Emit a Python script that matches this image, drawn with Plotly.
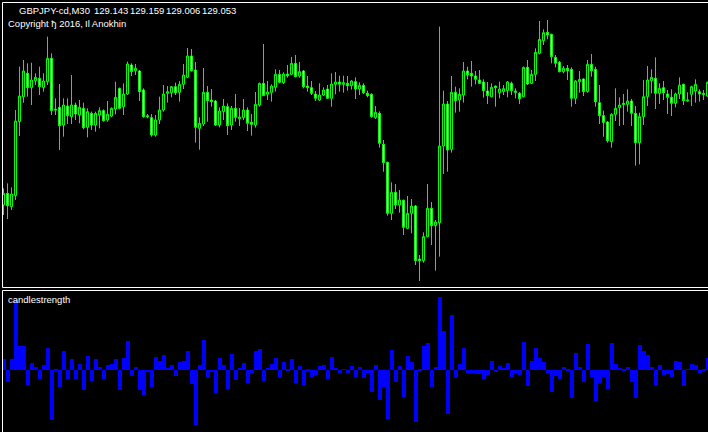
import plotly.graph_objects as go

# ---- data (GBPJPY M30, bar index) ----
open_ = [128.490,128.560,128.480,128.546,128.990,129.140,129.280,129.194,129.236,129.250,
         129.194,129.230,129.370,129.066,129.076,128.970,129.084,129.020,129.090,129.030,
         129.070,128.956,129.040,128.970,129.030,129.056,129.000,129.024,129.066,129.190,
         129.080,129.156,129.330,129.296,129.294,129.180,129.026,129.014,128.910,129.000,
         129.060,129.160,129.164,129.200,129.166,129.214,129.256,129.384,129.300,128.950,
         128.976,129.166,129.120,129.114,128.970,129.050,129.080,128.970,129.070,129.008,
         129.014,129.060,128.986,128.970,129.090,129.220,129.154,129.166,129.196,129.274,
         129.224,129.276,129.274,129.340,129.264,129.294,129.204,129.194,129.156,129.120,
         129.150,129.186,129.130,129.214,129.228,129.214,129.220,129.206,129.230,129.186,
         129.208,129.160,129.154,129.014,129.040,128.854,128.746,128.440,128.566,128.490,
         128.518,128.350,128.440,128.484,128.166,128.156,128.300,128.470,128.366,128.384,
         128.844,129.096,128.824,129.166,129.120,129.150,129.294,129.280,129.264,129.240,
         129.228,129.174,129.140,129.204,129.164,129.170,129.176,129.220,129.174,129.160,
         129.140,129.316,129.220,129.274,129.400,129.476,129.526,129.514,129.376,129.346,
         129.290,129.310,129.304,129.130,129.230,129.246,129.170,129.334,129.304,129.104,
         129.026,128.988,128.870,129.034,129.074,129.100,129.094,129.114,129.040,128.864,
         129.020,129.140,129.236,129.250,129.160,129.194,129.156,129.136,129.100,129.156,
         129.214,129.114,129.154,129.174,129.170,129.160,129.144]
high = [128.590,128.620,128.596,129.060,129.320,129.360,129.340,129.344,129.280,129.320,
        129.280,129.500,129.400,129.130,129.216,129.130,129.130,129.270,129.104,129.120,
        129.104,129.070,129.050,129.050,129.076,129.064,129.114,129.076,129.230,129.194,
        129.220,129.350,129.340,129.336,129.300,129.190,129.036,129.036,129.030,129.140,
        129.210,129.204,129.204,129.224,129.234,129.336,129.432,129.426,129.348,129.016,
        129.312,129.204,129.186,129.120,129.076,129.126,129.100,129.084,129.156,129.072,
        129.126,129.076,129.036,129.168,129.224,129.456,129.234,129.214,129.304,129.300,
        129.286,129.330,129.378,129.390,129.348,129.300,129.264,129.234,129.174,129.220,
        129.196,129.210,129.280,129.288,129.266,129.266,129.264,129.240,129.256,129.226,
        129.220,129.176,129.160,129.084,129.052,128.880,128.750,128.626,128.616,128.580,
        128.522,128.544,128.526,128.490,128.190,128.326,128.616,128.508,128.400,129.560,
        129.176,129.114,129.264,129.200,129.190,129.348,129.320,129.354,129.294,129.300,
        129.244,129.228,129.220,129.206,129.230,129.210,129.234,129.230,129.190,129.168,
        129.320,129.360,129.300,129.430,129.594,129.544,129.600,129.518,129.390,129.354,
        129.324,129.330,129.316,129.240,129.294,129.250,129.360,129.396,129.320,129.210,
        129.056,128.994,129.040,129.190,129.136,129.156,129.184,129.126,129.084,129.044,
        129.240,129.324,129.304,129.376,129.220,129.234,129.180,129.184,129.164,129.256,
        129.218,129.166,129.206,129.244,129.184,129.180,129.230]
low = [128.430,128.406,128.460,128.520,128.904,129.104,129.140,129.090,129.210,129.150,
       129.170,129.210,129.030,129.030,128.820,128.900,128.976,128.976,129.000,128.980,
       128.944,128.896,128.940,128.930,128.950,128.990,128.990,129.016,129.034,129.064,
       129.030,129.150,129.264,129.270,129.114,129.014,129.010,128.900,128.900,128.976,
       129.050,129.104,129.136,129.150,129.110,129.186,129.254,129.290,128.864,128.822,
       128.964,128.990,129.080,128.964,128.956,129.000,128.910,128.940,128.990,128.964,
       129.000,128.934,128.906,128.954,129.080,129.144,129.120,129.110,129.170,129.220,
       129.216,129.254,129.270,129.256,129.254,129.190,129.170,129.150,129.114,129.114,
       129.144,129.126,129.080,129.154,129.170,129.164,129.176,129.182,129.126,129.150,
       129.156,129.136,129.014,129.006,128.834,128.690,128.426,128.400,128.466,128.444,
       128.310,128.344,128.320,128.130,128.034,128.144,128.296,128.250,128.096,128.180,
       128.676,128.690,128.804,129.044,129.050,129.104,129.244,129.200,129.214,129.216,
       129.134,129.096,129.136,129.080,129.130,129.150,129.136,129.150,129.130,129.096,
       129.136,129.210,129.216,129.234,129.394,129.450,129.484,129.340,129.316,129.286,
       129.280,129.240,129.080,129.096,129.164,129.144,129.164,129.260,129.080,128.976,
       128.900,128.864,128.834,128.994,128.964,128.970,129.050,128.964,128.726,128.734,
       128.970,129.084,129.160,129.066,129.096,129.120,129.036,129.024,129.076,129.126,
       129.090,129.110,129.084,129.104,129.110,129.120,129.140]
close = [128.560,128.486,128.556,128.994,129.144,129.294,129.194,129.240,129.256,129.200,
         129.234,129.370,129.056,129.060,128.966,129.090,129.026,129.090,129.036,129.076,
         128.954,129.050,128.970,129.040,129.056,128.996,129.034,129.070,129.136,129.070,
         129.156,129.336,129.290,129.310,129.170,129.020,129.020,128.910,129.000,129.060,
         129.156,129.170,129.200,129.164,129.214,129.270,129.384,129.296,128.956,128.980,
         129.166,129.116,129.110,128.970,129.054,129.084,128.966,129.070,129.016,129.018,
         129.060,128.980,128.974,129.094,129.220,129.146,129.168,129.204,129.274,129.226,
         129.276,129.266,129.340,129.260,129.290,129.200,129.194,129.160,129.130,129.150,
         129.180,129.130,129.216,129.228,129.214,129.224,129.206,129.234,129.186,129.208,
         129.164,129.146,129.020,129.046,128.860,128.744,128.440,128.566,128.490,128.520,
         128.356,128.440,128.484,128.156,128.156,128.300,128.470,128.366,128.388,128.844,
         129.096,128.820,129.166,129.116,129.154,129.294,129.270,129.264,129.244,129.220,
         129.176,129.146,129.196,129.194,129.186,129.188,129.228,129.176,129.166,129.128,
         129.316,129.216,129.274,129.406,129.484,129.524,129.510,129.380,129.340,129.290,
         129.310,129.296,129.130,129.234,129.244,129.170,129.334,129.296,129.110,129.026,
         128.986,128.876,129.034,129.070,129.090,129.094,129.114,129.040,128.864,129.020,
         129.140,129.240,129.256,129.160,129.190,129.164,129.136,129.100,129.156,129.210,
         129.116,129.120,129.200,129.214,129.156,129.154,129.226]
strength = [3.2,-3.6,3.2,20.9,7.1,7.1,-4.6,2.0,0.8,-2.8,
            1.4,6.5,-15.0,-0.4,-5.2,5.6,-2.8,3.2,-2.8,1.7,
            -6.0,4.1,-3.4,3.2,0.8,-2.8,1.4,1.7,3.2,-6.0,
            3.5,8.6,-1.9,0.8,-6.0,-7.6,-0.6,-5.2,3.8,2.6,
            4.4,0.5,1.4,-1.9,2.3,2.6,5.6,-4.3,-16.6,1.4,
            8.9,-2.5,-0.7,-7.0,3.5,1.4,-5.8,4.7,-3.1,0.5,
            2.0,-4.0,-1.0,5.6,6.2,-3.4,0.5,1.7,3.5,-2.5,
            2.3,-0.4,3.2,-4.0,1.1,-4.6,-0.4,-2.2,-1.6,1.1,
            1.4,-2.8,3.8,0.5,-1.0,0.2,-1.0,1.1,-2.2,0.8,
            -2.4,-1.0,-6.6,1.4,-9.0,-5.2,-14.8,5.9,-3.6,1.1,
            -8.2,4.1,2.3,-15.6,-0.3,7.1,8.0,-5.2,0.8,21.8,
            11.6,-13.2,16.4,-2.4,1.8,6.5,-1.0,-1.0,-1.2,-1.2,
            -2.8,-1.6,2.6,-0.6,1.1,0.5,2.0,-2.2,-1.0,-1.6,
            8.3,-4.8,2.6,6.5,3.5,2.3,-1.0,-6.6,-1.8,-2.8,
            0.8,-0.4,-8.4,5.0,0.8,-3.6,7.7,-2.2,-9.4,-4.0,
            -2.2,-5.8,8.0,1.8,0.5,-0.4,0.8,-3.6,-8.4,7.4,
            5.6,4.4,0.8,-4.6,1.4,-1.6,-1.2,-2.2,2.6,2.3,
            -4.8,0.2,1.7,1.4,-1.0,-0.4,3.5]
bar_index = list(range(len(close)))

title_symbol = "GBPJPY-cd,M30"
title_ohlc = ["129.143", "129.159", "129.006", "129.053"]
copyright_left = "Copyright \u0452 2016,"
copyright_right = "Il Anokhin"
indicator_name = "candlestrength"

W, H = 708, 432
LIME = "#00FF00"

fig = go.Figure()
fig.add_trace(go.Candlestick(
    x=bar_index, open=open_, high=high, low=low, close=close,
    increasing=dict(line=dict(color=LIME, width=1), fillcolor="#000000"),
    decreasing=dict(line=dict(color=LIME, width=1), fillcolor="#FFFFFF"),
    whiskerwidth=0, hoverinfo="skip", xaxis="x", yaxis="y",
))
fig.add_trace(go.Bar(
    x=bar_index, y=strength, marker=dict(color="#0000FF", line=dict(width=0)),
    width=1.0, hoverinfo="skip", xaxis="x", yaxis="y2",
))

def px_x(p):
    return p / W

def px_y(p):
    return 1 - p / H

shapes = []
def hline(y, x0=2.5, x1=W):
    shapes.append(dict(type="line", xref="paper", yref="paper",
                       x0=px_x(x0), x1=px_x(x1), y0=px_y(y), y1=px_y(y),
                       line=dict(color="#FFFFFF", width=1)))
def vline(x, y0, y1):
    shapes.append(dict(type="line", xref="paper", yref="paper",
                       x0=px_x(x), x1=px_x(x), y0=px_y(y0), y1=px_y(y1),
                       line=dict(color="#FFFFFF", width=1)))
hline(2.5)
hline(287.5)
hline(290.5)
vline(2.5, 2.5, 287.5)
vline(2.5, 290.5, H)

FONT = "Liberation Sans, Arial, sans-serif"
ann = []
def text(t, x, y, size, anchor="left"):
    ann.append(dict(text=t, x=px_x(x), y=px_y(y), xref="paper", yref="paper",
                    xanchor=anchor, yanchor="middle", showarrow=False,
                    font=dict(family=FONT, size=size, color="#FFFFFF")))
text(title_symbol, 17, 11, 9.5)
for k, v in enumerate(title_ohlc):
    text(v, 92 + 36 * k, 11, 9.5)
text(copyright_left, 6, 23.5, 9.5)
text(copyright_right, 128, 23.5, 9.5, anchor="right")
text(indicator_name, 6, 299, 9.5)

fig.update_layout(
    width=W, height=H, margin=dict(l=0, r=0, t=0, b=0),
    paper_bgcolor="#000000", plot_bgcolor="#000000",
    showlegend=False, bargap=0, boxgap=0.5, boxgroupgap=0,
    xaxis=dict(range=[-0.875, 176.125], visible=False, rangeslider=dict(visible=False),
               domain=[0, 1], fixedrange=True),
    yaxis=dict(range=[127.128, 129.72], visible=False, domain=[0, 1], fixedrange=True),
    yaxis2=dict(range=[-18.7, 110.9], visible=False, overlaying="y", fixedrange=True),
    shapes=shapes, annotations=ann,
)
fig.write_html("out.html", config={"displayModeBar": False},
               post_script="document.body.style.margin='0';document.body.style.background='#000';")
